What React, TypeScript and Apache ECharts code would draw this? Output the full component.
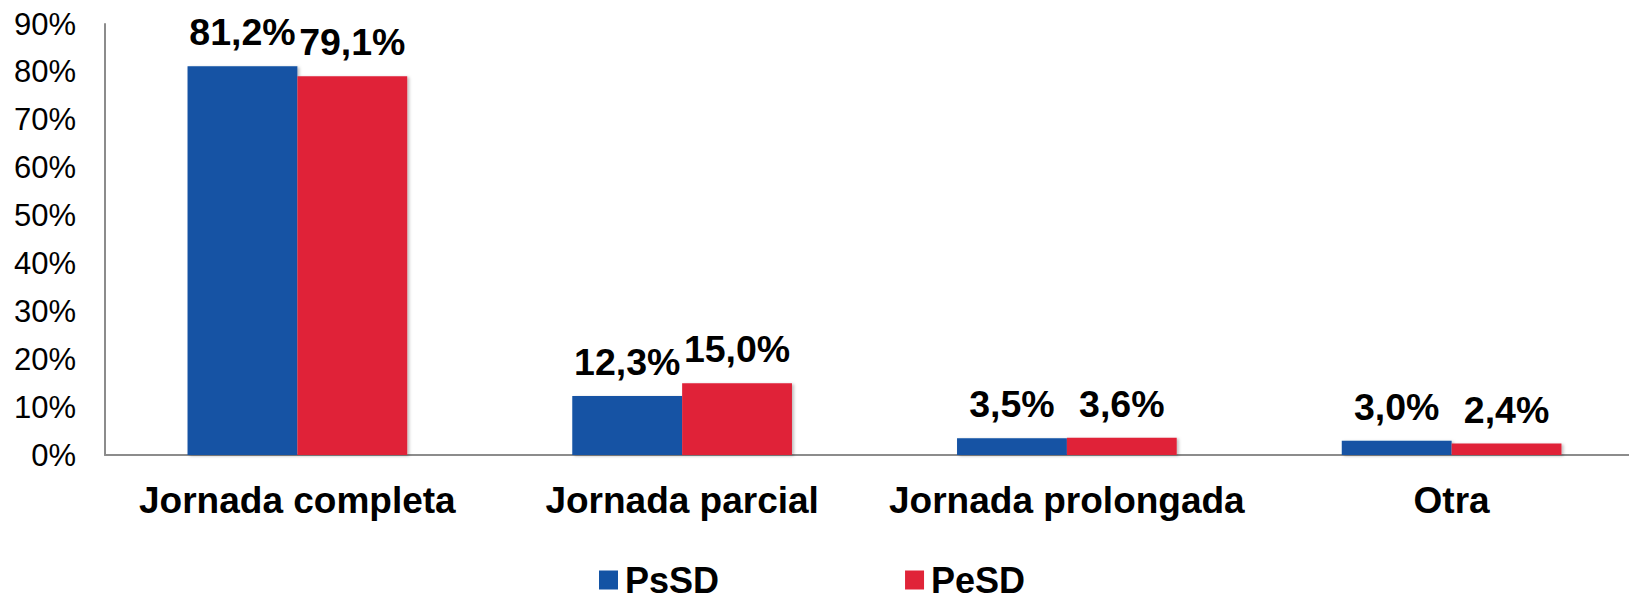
import React, { useEffect, useRef } from "react";
import * as echarts from "echarts";

const categories = ["Jornada completa", "Jornada parcial", "Jornada prolongada", "Otra"];
const psSD = [81.2, 12.3, 3.5, 3.0];
const peSD = [79.1, 15.0, 3.6, 2.4];
const seriesNames = ["PsSD", "PeSD"];
const yTicks = { min: 0, max: 90, interval: 10 };

const FONT = "Arial, 'Liberation Sans', sans-serif";

export default function App() {
  const ref = useRef<HTMLDivElement>(null);
  useEffect(() => {
    const chart = echarts.init(ref.current!, undefined, { renderer: "svg" });
    const fmt = (v: number) => v.toFixed(1).replace(".", ",") + "%";
    const label = {
      show: true,
      position: "top",
      distance: 15,
      fontFamily: FONT,
      fontSize: 37.5,
      fontWeight: "bold",
      color: "#000",
      formatter: (p: any) => fmt(p.value),
    };
    const shadow = {
      shadowColor: "rgba(0,0,0,0.25)",
      shadowBlur: 3,
      shadowOffsetX: 2,
      shadowOffsetY: 1,
    };
    chart.setOption({
      animation: false,
      backgroundColor: "#fff",
      grid: { left: 105, right: 0, top: 24, bottom: 142, containLabel: false },
      legend: {
        data: seriesNames,
        top: 562,
        left: 599,
        padding: 0,
        itemWidth: 19,
        itemHeight: 19,
        itemGap: 186,
        icon: "rect",
        textStyle: { fontFamily: FONT, fontSize: 36, fontWeight: "bold", color: "#000", lineHeight: 30, padding: [0, 0, 0, 2] },
      },
      xAxis: {
        type: "category",
        data: categories,
        axisLine: { show: true, lineStyle: { color: "#8c8c8c", width: 2 } },
        axisTick: { show: false },
        axisLabel: { interval: 0, fontFamily: FONT, fontSize: 37, fontWeight: "bold", color: "#000", margin: 27, lineHeight: 37 },
      },
      yAxis: {
        type: "value",
        min: yTicks.min,
        max: yTicks.max,
        interval: yTicks.interval,
        axisLine: { show: true, lineStyle: { color: "#8c8c8c", width: 2 } },
        axisTick: { show: false },
        splitLine: { show: false },
        axisLabel: { fontFamily: FONT, fontSize: 31, color: "#000", margin: 29, formatter: (v: number) => v + "%" },
      },
      series: [
        {
          name: seriesNames[0],
          type: "bar",
          data: psSD,
          barGap: "0%",
          barCategoryGap: "42.9%",
          itemStyle: { color: "#1353a4", ...shadow },
          label,
        },
        {
          name: seriesNames[1],
          type: "bar",
          data: peSD,
          barGap: "0%",
          barCategoryGap: "42.9%",
          itemStyle: { color: "#e02438", ...shadow },
          label,
        },
      ],
    });
    return () => chart.dispose();
  }, []);
  return (
    <div style={{ position: "absolute", left: 0, top: 0, width: 1629, height: 597, overflow: "hidden" }}>
      <div ref={ref} style={{ width: 1644, height: 597 }} />
    </div>
  );
}
